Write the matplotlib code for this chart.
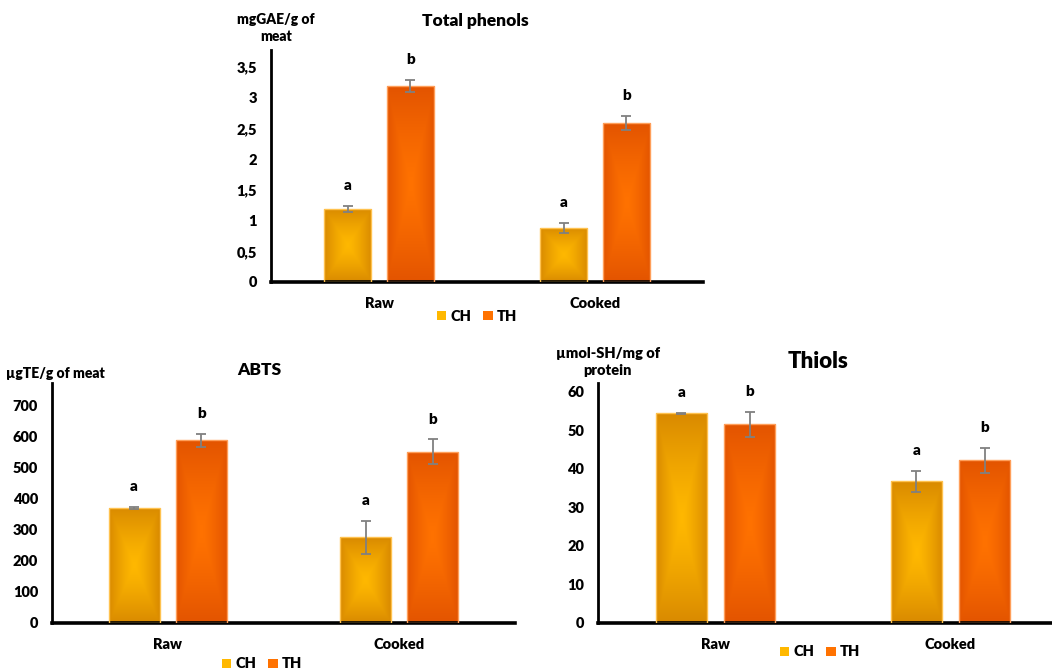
import numpy as np
import matplotlib
matplotlib.use("Agg")
import matplotlib.pyplot as plt
from matplotlib.colors import to_rgb
from matplotlib.patches import Patch

plt.rcParams['font.family'] = ['Lato', 'DejaVu Sans']
plt.rcParams['font.weight'] = 'bold'

# ---------------- data ----------------
groups = ["Raw", "Cooked"]
series = ["CH", "TH"]
letters_CH = ["a", "a"]
letters_TH = ["b", "b"]

phen_CH = [1.19, 0.88]
phen_CH_err = [0.05, 0.08]
phen_TH = [3.19, 2.59]
phen_TH_err = [0.10, 0.11]
phen_ticks = [0, 0.5, 1, 1.5, 2, 2.5, 3, 3.5]
phen_ticklabels = ["0", "0,5", "1", "1,5", "2", "2,5", "3", "3,5"]

abts_CH = [371, 277]
abts_CH_err = [2, 53]
abts_TH = [590, 552]
abts_TH_err = [21, 40]
abts_ticks = [0, 100, 200, 300, 400, 500, 600, 700]

thiol_CH = [54.4, 36.8]
thiol_CH_err = [0.2, 2.7]
thiol_TH = [51.6, 42.2]
thiol_TH_err = [3.2, 3.3]
thiol_ticks = [0, 10, 20, 30, 40, 50, 60]

# ---------------- style ----------------
CH_center, CH_edge, CH_line = "#FFB800", "#D98A00", "#FFC24F"
TH_center, TH_edge, TH_line = "#FF7200", "#E35400", "#FF9F5A"
W, H = 1052, 671

fig = plt.figure(figsize=(W / 100, H / 100), dpi=100)


def fpos(x0, y0, x1, y1):
    return [x0 / W, 1 - y1 / H, (x1 - x0) / W, (y1 - y0) / H]


def gradient_img(c_center, c_edge, n=120):
    u = np.linspace(-1, 1, n)
    U, V = np.meshgrid(u, u)
    d = np.maximum(np.abs(U), np.abs(V)) ** 1.3
    cc = np.array(to_rgb(c_center))
    ce = np.array(to_rgb(c_edge))
    return cc[None, None, :] * (1 - d[..., None]) + ce[None, None, :] * d[..., None]


def draw(ax, ch, ch_err, th, th_err, ymax, ticks, ticklabels):
    x = np.arange(len(groups))
    w, off = 0.22, 0.145
    for vals, errs, xs, cc, ce, cl, lets in [
        (ch, ch_err, x - off, CH_center, CH_edge, CH_line, letters_CH),
        (th, th_err, x + off, TH_center, TH_edge, TH_line, letters_TH),
    ]:
        bars = ax.bar(xs, vals, w, facecolor="none", edgecolor=cl, linewidth=1.0, zorder=3)
        img = gradient_img(cc, ce)
        for b in bars:
            im = ax.imshow(img, extent=[b.get_x(), b.get_x() + b.get_width(), 0, b.get_height()],
                           aspect="auto", origin="lower", zorder=2, interpolation="bilinear")
            im.set_clip_path(b)
        ax.errorbar(xs, vals, yerr=errs, fmt="none", ecolor="#808080", elinewidth=1.3,
                    capsize=3.5, capthick=1.3, zorder=4)
        for xi, v, e, l in zip(xs, vals, errs, lets):
            ax.annotate(l, (xi, v + e), xytext=(0, 10), textcoords="offset points",
                        ha="center", va="bottom", fontsize=11, fontweight="heavy")
    ax.set_xlim(-0.5, len(groups) - 0.5)
    ax.set_ylim(0, ymax)
    ax.set_xticks(x)
    ax.set_xticklabels(groups, fontsize=10.5, fontweight="heavy")
    ax.set_yticks(ticks)
    ax.set_yticklabels(ticklabels, fontsize=10.5, fontweight="heavy")
    ax.tick_params(length=0, pad=10)
    ax.tick_params(axis="x", pad=11)
    for s in ["top", "right"]:
        ax.spines[s].set_visible(False)
    ax.spines["left"].set_linewidth(2.0)
    ax.spines["bottom"].set_linewidth(2.6)
    ax.set_facecolor("none")


def legend_at(cx, cy):
    handles = [Patch(facecolor=CH_center, edgecolor="none"),
               Patch(facecolor=TH_center, edgecolor="none")]
    leg = fig.legend(handles, series, loc="center", bbox_to_anchor=(cx / W, 1 - cy / H),
                     ncol=2, frameon=False, handlelength=0.65, handleheight=0.65,
                     handletextpad=0.3, columnspacing=0.8, fontsize=10.5)
    for t in leg.get_texts():
        t.set_fontweight("heavy")


# Top: Total phenols
ax1 = fig.add_axes(fpos(271, 50, 703, 282))
draw(ax1, phen_CH, phen_CH_err, phen_TH, phen_TH_err, 3.78, phen_ticks, phen_ticklabels)
fig.text(475 / W, 1 - 21 / H, "Total phenols", ha="center", va="center", fontsize=12.5,
         fontweight="heavy")
fig.text(276 / W, 1 - 28 / H, "mgGAE/g of\nmeat", ha="center", va="center", fontsize=10,
         fontweight="heavy", linespacing=1.45)
legend_at(477, 316)

# Bottom-left: ABTS
ax2 = fig.add_axes(fpos(52, 383, 515, 623))
draw(ax2, abts_CH, abts_CH_err, abts_TH, abts_TH_err, 774, abts_ticks,
     [str(t) for t in abts_ticks])
fig.text(259 / W, 1 - 370 / H, "ABTS", ha="center", va="center", fontsize=12.5, fontweight="heavy")
fig.text(55 / W, 1 - 373 / H, "µgTE/g of meat", ha="center", va="center", fontsize=10,
         fontweight="heavy")
legend_at(262, 664)

# Bottom-right: Thiols
ax3 = fig.add_axes(fpos(598, 383, 1068, 623))
draw(ax3, thiol_CH, thiol_CH_err, thiol_TH, thiol_TH_err, 62.3, thiol_ticks,
     [str(t) for t in thiol_ticks])
fig.text(818 / W, 1 - 361 / H, "Thiols", ha="center", va="center", fontsize=16, fontweight="heavy")
fig.text(608 / W, 1 - 362 / H, "µmol-SH/mg of\nprotein", ha="center", va="center", fontsize=10.5,
         fontweight="heavy", linespacing=1.45)
legend_at(820, 652)

fig.savefig("out.png", dpi=100, facecolor="white")
